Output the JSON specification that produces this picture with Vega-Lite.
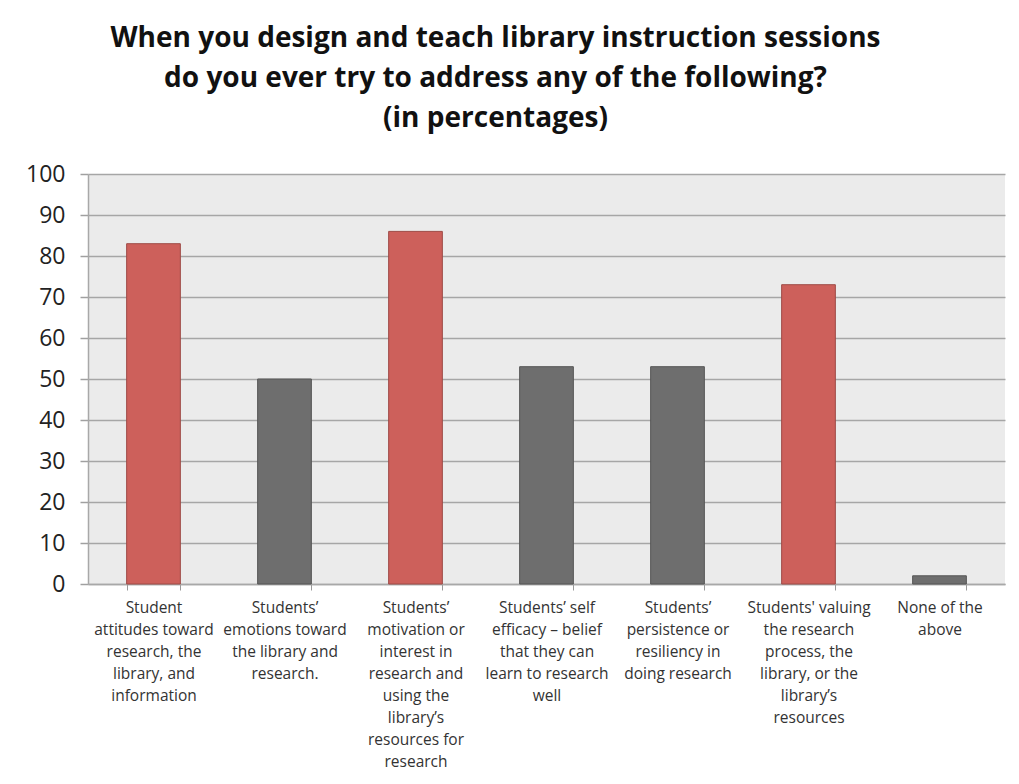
{
  "$schema": "https://vega.github.io/schema/vega-lite/v6.json",
  "autosize": "none",
  "width": 917,
  "height": 410,
  "padding": {"left": 88, "top": 174, "right": 14, "bottom": 200},
  "background": "white",
  "title": {
    "text": ["When you design and teach library instruction sessions", "do you ever try to address any of the following?", "(in percentages)"],
    "font": "Open Sans",
    "fontSize": 28,
    "fontWeight": "bold",
    "color": "#111111",
    "lineHeight": 40,
    "anchor": "middle",
    "dx": -51,
    "offset": 30
  },
  "data": {
    "values": [
      {"category": "Student|attitudes toward|research, the|library, and|information", "order": 1, "value": 83, "group": "red"},
      {"category": "Students’|emotions toward|the library and|research.", "order": 2, "value": 50, "group": "gray"},
      {"category": "Students’|motivation or|interest in|research and|using the|library’s|resources for|research", "order": 3, "value": 86, "group": "red"},
      {"category": "Students’ self|efficacy – belief|that they can|learn to research|well", "order": 4, "value": 53, "group": "gray"},
      {"category": "Students’|persistence or|resiliency in|doing research", "order": 5, "value": 53, "group": "gray"},
      {"category": "Students' valuing|the research|process, the|library, or the|library’s|resources", "order": 6, "value": 73, "group": "red"},
      {"category": "None of the|above", "order": 7, "value": 2, "group": "gray"}
    ]
  },
  "mark": {"type": "bar", "strokeWidth": 1},
  "encoding": {
    "x": {
      "field": "category",
      "type": "nominal",
      "sort": {"field": "order"},
      "scale": {"paddingInner": 0.59, "paddingOuter": 0.295},
      "axis": {
        "title": null,
        "labelAngle": 0,
        "labelExpr": "split(datum.label, '|')",
        "labelFont": "Open Sans",
        "labelFontSize": 15.5,
        "labelLineHeight": 22,
        "labelColor": "#333333",
        "labelPadding": 10,
        "labelBaseline": "top",
        "labelLimit": 200,
        "tickBand": "extent",
        "tickColor": "#999999",
        "tickSize": 6,
        "domainColor": "#A8A8A8",
        "domainWidth": 1.5,
        "grid": false
      }
    },
    "y": {
      "field": "value",
      "type": "quantitative",
      "scale": {"domain": [0, 100]},
      "axis": {
        "title": null,
        "values": [0, 10, 20, 30, 40, 50, 60, 70, 80, 90, 100],
        "labelFont": "Open Sans",
        "labelFontSize": 23,
        "labelColor": "#222222",
        "labelPadding": 15,
        "tickSize": 8,
        "tickColor": "#A0A0A0",
        "tickWidth": 1.5,
        "domainColor": "#A8A8A8",
        "domainWidth": 1.5,
        "grid": true,
        "gridColor": "#A6A6A6",
        "gridWidth": 1.5
      }
    },
    "color": {
      "field": "group",
      "type": "nominal",
      "scale": {"domain": ["red", "gray"], "range": ["#CD605B", "#6E6E6E"]},
      "legend": null
    },
    "stroke": {
      "field": "group",
      "type": "nominal",
      "scale": {"domain": ["red", "gray"], "range": ["#9E4A46", "#555555"]},
      "legend": null
    }
  },
  "config": {
    "view": {"fill": "#EBEBEB", "stroke": null}
  }
}
